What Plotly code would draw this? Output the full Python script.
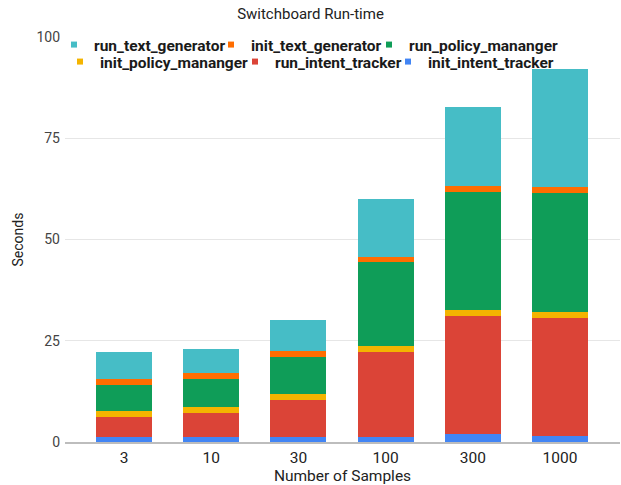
import plotly.graph_objects as go

categories = ["3", "10", "30", "100", "300", "1000"]

init_intent_tracker = [1.2, 1.2, 1.2, 1.3, 2.1, 1.6]
run_intent_tracker = [4.9, 6.0, 9.2, 21.0, 29.1, 29.0]
init_policy_mananger = [1.6, 1.4, 1.5, 1.3, 1.4, 1.5]
run_policy_mananger = [6.4, 7.0, 9.2, 20.9, 29.2, 29.3]
init_text_generator = [1.5, 1.4, 1.4, 1.3, 1.5, 1.5]
run_text_generator = [6.7, 6.0, 7.6, 14.3, 19.3, 29.1]

series_names = ["init_intent_tracker", "run_intent_tracker", "init_policy_mananger",
                "run_policy_mananger", "init_text_generator", "run_text_generator"]
series_values = [init_intent_tracker, run_intent_tracker, init_policy_mananger,
                 run_policy_mananger, init_text_generator, run_text_generator]
series_colors = ["#4285F4", "#DB4437", "#F4B400", "#0F9D58", "#FF6D00", "#46BDC6"]

y_ticks = [0, 25, 50, 75, 100]

W, H = 621, 485
FONT = "Roboto, Arial, sans-serif"

# legend entry placement (left edge px, row-centre px), in legend order
legend_pos = {
    "run_text_generator": (54, 45),
    "init_text_generator": (211, 45),
    "run_policy_mananger": (369, 45),
    "init_policy_mananger": (60, 62),
    "run_intent_tracker": (235, 62),
    "init_intent_tracker": (388, 62),
}

fig = go.Figure()
for name, vals, color in zip(series_names, series_values, series_colors):
    fig.add_trace(go.Bar(
        x=categories, y=vals, name=name,
        marker=dict(color=color, line=dict(width=0)),
        showlegend=False,
    ))

legend_layouts = {}
for i, (name, color) in enumerate(zip(series_names, series_colors)):
    lg = "legend" if i == 0 else f"legend{i + 1}"
    fig.add_trace(go.Scatter(
        x=[None], y=[None], mode="markers", name=name,
        marker=dict(symbol="square", size=6, color=color),
        showlegend=True, hoverinfo="skip", legend=lg,
    ))
    px, py = legend_pos[name]
    legend_layouts[lg] = dict(
        orientation="h", xref="container", yref="container",
        x=px / W, xanchor="left", y=1 - py / H, yanchor="middle",
        bgcolor="rgba(255,255,255,0)", borderwidth=0,
        font=dict(size=15.5, color="#1a1a1a", family=FONT, weight="bold"),
        itemwidth=30,
    )

fig.update_layout(
    width=W, height=H,
    margin=dict(l=65, r=1, t=37, b=43, autoexpand=False),
    paper_bgcolor="white", plot_bgcolor="white",
    barmode="stack", bargap=0.358,
    font=dict(family=FONT, color="#222222"),
    title=dict(text="Switchboard Run-time", x=0.5, xanchor="center",
               xref="container", yref="container",
               y=1 - 13.5 / H, yanchor="middle",
               font=dict(size=15, color="#222222", family=FONT)),
    showlegend=True,
    xaxis=dict(type="category", categoryorder="array", categoryarray=categories,
               range=[-0.677, 5.688],
               showgrid=False, showline=True, linecolor="#bdbdbd", linewidth=2,
               ticks="", tickfont=dict(size=15.5, color="#222222"),
               title=dict(text="Number of Samples", font=dict(size=15.5, color="#222222"), standoff=2)),
    yaxis=dict(range=[0, 100], tickvals=y_ticks, ticktext=[str(v) for v in y_ticks],
               showgrid=True, gridcolor="#e6e6e6", gridwidth=1,
               zeroline=False, showline=False, ticks="", ticklabelstandoff=4,
               tickfont=dict(size=14, color="#444444"),
               title=dict(text="Seconds", font=dict(size=14, color="#222222"), standoff=9)),
    **legend_layouts,
)

fig.write_html("out.html",
               config={"displayModeBar": False},
               post_script="document.body.style.margin='0';document.body.style.overflow='hidden';")
